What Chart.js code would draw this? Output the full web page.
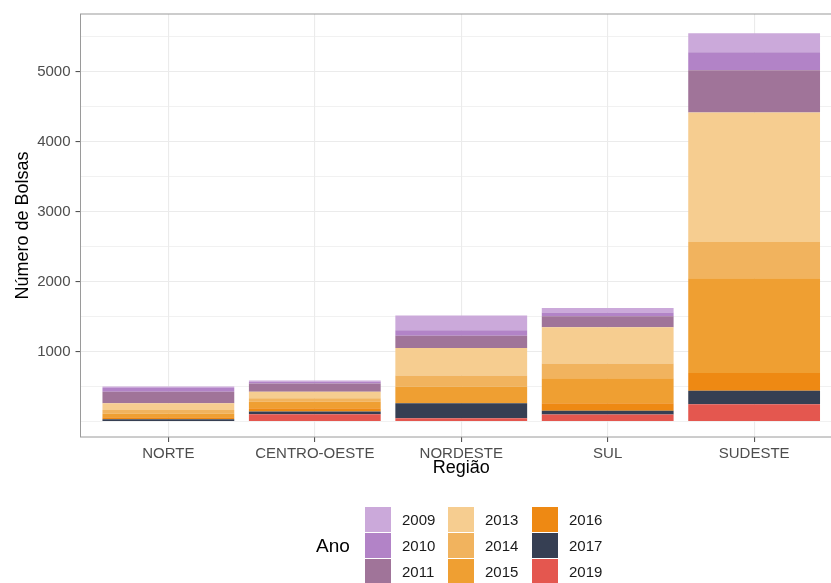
<!DOCTYPE html>
<html>
<head>
<meta charset="utf-8">
<script src="https://cdn.jsdelivr.net/npm/chart.js@4/dist/chart.umd.min.js"></script>
<style>
  html, body { margin: 0; padding: 0; background: #fff; overflow: hidden; }
  body { width: 831px; height: 583px; position: relative; font-family: "Liberation Sans", Arial, sans-serif; }
  #chart_box { position: absolute; left: 0; top: 0; width: 846px; height: 583px; }
  #legenda { position: absolute; left: 0; top: 0; width: 831px; height: 583px; pointer-events: none; }
  .leg_titulo { position: absolute; font-size: 19px; color: #000; line-height: 20px; }
  .leg_chave { position: absolute; width: 26px; height: 25px; }
  .leg_texto { position: absolute; font-size: 15px; color: #1a1a1a; line-height: 16px; }
</style>
</head>
<body>
<div id="chart_box"><canvas id="bolsas_chart"></canvas></div>
<div id="legenda"></div>
<script>
// regions on the x axis
var regioes = ["NORTE", "CENTRO-OESTE", "NORDESTE", "SUL", "SUDESTE"];

// years (legend order) and their fill colours
var anos = ["2009", "2010", "2011", "2013", "2014", "2015", "2016", "2017", "2019"];
var cores = ["#cba9da", "#b283c7", "#a07499", "#f6cd90", "#f1b35e", "#ef9f32", "#ee8913", "#363f53", "#e4574f"];

// number of grants per year, one value per region
var bolsas_2009 = [20, 19, 213, 63, 274];
var bolsas_2010 = [55, 23, 79, 56, 255];
var bolsas_2011 = [165, 119, 176, 156, 606];
var bolsas_2013 = [95, 94, 392, 519, 1853];
var bolsas_2014 = [52, 48, 161, 209, 520];
var bolsas_2015 = [52, 94, 236, 359, 1353];
var bolsas_2016 = [28, 48, 0, 109, 255];
var bolsas_2017 = [30, 37, 213, 53, 193];
var bolsas_2019 = [0, 102, 45, 96, 244];

var bolsas_por_ano = [bolsas_2009, bolsas_2010, bolsas_2011, bolsas_2013, bolsas_2014,
                      bolsas_2015, bolsas_2016, bolsas_2017, bolsas_2019];

// y axis: grid every 500, labels only on the thousands
var y_grid = [0, 500, 1000, 1500, 2000, 2500, 3000, 3500, 4000, 4500, 5000, 5500];
var y_labels = [1000, 2000, 3000, 4000, 5000];

var cor_texto = "#4d4d4d";
var cor_grid = "#ebebeb";

// ggplot stacks the first level on top, so build datasets from the last year up
var datasets = [];
for (var i = anos.length - 1; i >= 0; i--) {
    var valores = bolsas_por_ano[i];
    datasets.push({
        label: anos[i],
        backgroundColor: cores[i],
        borderWidth: 0,
        data: regioes.map(function(r, j) { return {x: j + 1, y: valores[j]}; }),
        categoryPercentage: 0.9,
        barPercentage: 1.0
    });
}

// panel border drawn over everything
var panel_border = {
    id: "panel_border",
    afterDraw: function(chart) {
        var a = chart.chartArea;
        var ctx = chart.ctx;
        ctx.save();
        ctx.strokeStyle = "#9a9a9a";
        ctx.lineWidth = 1;
        ctx.strokeRect(a.left, a.top, a.right - a.left, a.bottom - a.top);
        ctx.restore();
    }
};

var ctx = document.getElementById("bolsas_chart");
var myChart = new Chart(ctx, {
    type: "bar",
    data: { datasets: datasets },
    plugins: [panel_border],
    options: {
        responsive: true,
        maintainAspectRatio: false,
        animation: false,
        layout: { padding: { top: 10.5, right: 4, left: 0, bottom: 0 } },
        plugins: {
            legend: { display: false },
            tooltip: { enabled: false }
        },
        scales: {
            x: {
                type: "linear",
                stacked: true,
                offset: false,
                min: 0.4,
                max: 5.6,
                afterBuildTicks: function(scale) {
                    scale.ticks = regioes.map(function(r, j) { return {value: j + 1}; });
                },
                afterFit: function(scale) { scale.height = 146; },
                grid: {
                    offset: false,
                    color: cor_grid,
                    lineWidth: 1.1,
                    tickLength: 5,
                    tickColor: "#555"
                },
                border: { display: false },
                ticks: {
                    padding: 3,
                    color: cor_texto,
                    font: { family: "Liberation Sans", size: 15 },
                    maxRotation: 0,
                    autoSkip: false,
                    callback: function(v) { return regioes[Math.round(v) - 1]; }
                },
                title: {
                    display: true,
                    text: "Região",
                    color: "#000",
                    font: { family: "Liberation Sans", size: 18 },
                    padding: { top: 0, bottom: 104 }
                }
            },
            y: {
                stacked: true,
                min: -225,
                max: 5827,
                afterBuildTicks: function(scale) {
                    scale.ticks = y_grid.map(function(v) { return {value: v}; });
                },
                afterFit: function(scale) { scale.width = 80.5; },
                grid: {
                    color: cor_grid,
                    lineWidth: function(c) {
                        return y_labels.indexOf(c.tick.value) >= 0 ? 1.1 : 0.7;
                    },
                    tickLength: 5,
                    tickColor: function(c) {
                        return y_labels.indexOf(c.tick.value) >= 0 ? "#555" : "rgba(0,0,0,0)";
                    }
                },
                border: { display: false },
                ticks: {
                    padding: 5,
                    color: cor_texto,
                    font: { family: "Liberation Sans", size: 15 },
                    autoSkip: false,
                    callback: function(v) { return y_labels.indexOf(v) >= 0 ? String(v) : ""; }
                },
                title: {
                    display: true,
                    text: "Número de Bolsas",
                    color: "#000",
                    font: { family: "Liberation Sans", size: 18 },
                    padding: { top: 12, bottom: 0 }
                }
            }
        }
    }
});

// legend: title on the left, keys filled column by column (3 rows)
var leg = document.getElementById("legenda");
var tit = document.createElement("div");
tit.className = "leg_titulo";
tit.textContent = "Ano";
tit.style.left = "316px";
tit.style.top = "536px";
leg.appendChild(tit);

var col_x = [365, 448, 532];
for (var k = 0; k < anos.length; k++) {
    var col = Math.floor(k / 3);
    var row = k % 3;
    var y_chave = 507 + row * 26;
    var chave = document.createElement("div");
    chave.className = "leg_chave";
    chave.style.background = cores[k];
    chave.style.left = col_x[col] + "px";
    chave.style.top = y_chave + "px";
    leg.appendChild(chave);
    var txt = document.createElement("div");
    txt.className = "leg_texto";
    txt.textContent = anos[k];
    txt.style.left = (col_x[col] + 37) + "px";
    txt.style.top = (y_chave + 5) + "px";
    leg.appendChild(txt);
}
</script>
</body>
</html>
